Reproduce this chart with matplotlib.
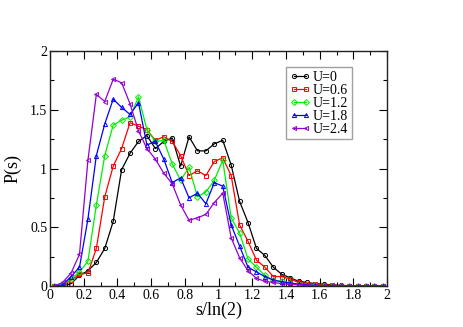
import numpy as np
import matplotlib
matplotlib.use('Agg')
import matplotlib.pyplot as plt
from matplotlib.ticker import MultipleLocator, FuncFormatter

plt.rcParams['font.family'] = ['Liberation Serif', 'DejaVu Serif']

# bin centres s/ln(2)
s = [0.025, 0.075, 0.125, 0.175, 0.225, 0.275, 0.325, 0.375, 0.425, 0.475,
     0.525, 0.575, 0.625, 0.675, 0.725, 0.775, 0.825, 0.875, 0.925, 0.975,
     1.025, 1.075, 1.125, 1.175, 1.225, 1.275, 1.325, 1.375, 1.425, 1.475,
     1.525, 1.575, 1.625, 1.675, 1.725, 1.775, 1.825, 1.875, 1.925, 1.975]

p_u00 = [0, 0, 0.02, 0.09, 0.13, 0.2, 0.32, 0.55, 0.99, 1.13,
         1.23, 1.28, 1.17, 1.23, 1.26, 1.02, 1.27, 1.15, 1.15, 1.21,
         1.24, 1.03, 0.72, 0.54, 0.32, 0.26, 0.16, 0.1, 0.07, 0.04,
         0.03, 0.02, 0.015, 0.01, 0.005, 0.003, 0.002, 0.001, 0, 0]
p_u06 = [0, 0.005, 0.05, 0.1, 0.11, 0.32, 0.76, 1.02, 1.17, 1.39,
         1.36, 1.33, 1.24, 1.27, 1.23, 1.11, 0.94, 0.98, 0.94, 1.06,
         1.09, 0.94, 0.52, 0.38, 0.22, 0.16, 0.08, 0.08, 0.06, 0.03,
         0.02, 0.015, 0.01, 0.005, 0.003, 0.002, 0.001, 0, 0, 0]
p_u12 = [0, 0.01, 0.06, 0.12, 0.21, 0.69, 1.11, 1.37, 1.41, 1.44,
         1.61, 1.33, 1.23, 1.24, 1.04, 0.9, 1.01, 0.76, 0.8, 0.9,
         1.07, 0.58, 0.45, 0.23, 0.16, 0.09, 0.05, 0.04, 0.025, 0.015,
         0.01, 0.005, 0.003, 0.002, 0.001, 0, 0, 0, 0, 0]
p_u18 = [0, 0.01, 0.08, 0.16, 0.57, 1.11, 1.38, 1.59, 1.52, 1.46,
         1.56, 1.2, 1.23, 1.08, 0.88, 0.92, 0.75, 0.79, 0.7, 0.88,
         0.85, 0.52, 0.34, 0.16, 0.12, 0.08, 0.05, 0.035, 0.025, 0.015,
         0.01, 0.005, 0.003, 0.002, 0.001, 0, 0, 0, 0, 0]
p_u24 = [0, 0.03, 0.11, 0.27, 1.07, 1.63, 1.57, 1.76, 1.73, 1.55,
         1.32, 1.17, 1.08, 0.96, 0.87, 0.69, 0.56, 0.58, 0.61, 0.71,
         0.79, 0.41, 0.24, 0.13, 0.065, 0.04, 0.03, 0.02, 0.015, 0.01,
         0.005, 0.003, 0.002, 0.001, 0, 0, 0, 0, 0, 0]

labels = ['U=0', 'U=0.6', 'U=1.2', 'U=1.8', 'U=2.4']
series = [p_u00, p_u06, p_u12, p_u18, p_u24]
colors = ['black', '#ff0000', '#00ee00', '#0000ff', '#9400d3']
markers = ['o', 's', 'D', '^', '<']

fig = plt.figure(figsize=(4.63, 3.27), dpi=100)
ax = fig.add_axes([0.108, 0.1254, 0.728, 0.7186])

for y, lab, c, m in zip(series, labels, colors, markers):
    ax.plot(s, y, color=c, lw=0.9, marker=m, ms=3.0, mfc='none',
            mec=c, mew=0.7, label=lab)

ax.set_xlim(0, 2)
ax.set_ylim(0, 2)
ax.xaxis.set_major_locator(MultipleLocator(0.2))
ax.xaxis.set_minor_locator(MultipleLocator(0.1))
ax.yaxis.set_major_locator(MultipleLocator(0.5))
ax.yaxis.set_minor_locator(MultipleLocator(0.25))
fmt = FuncFormatter(lambda v, pos: f'{round(v, 2):g}')
ax.xaxis.set_major_formatter(fmt)
ax.yaxis.set_major_formatter(fmt)
ax.tick_params(which='both', direction='in', top=True, right=True,
               labelsize=10, pad=2, width=0.8)
ax.tick_params(which='major', length=6)
ax.tick_params(which='minor', length=3)
for sp in ax.spines.values():
    sp.set_linewidth(1.0)
    sp.set_color('#222222')

ax.set_xlabel('s/ln(2)', fontsize=13, labelpad=0)
ax.set_ylabel('P(s)', fontsize=13, labelpad=6)

leg = ax.legend(loc='upper left', bbox_to_anchor=(0.70, 0.93), numpoints=2,
                fontsize=10, frameon=True, fancybox=False, handlelength=1.5,
                handletextpad=0.2, labelspacing=0.0, borderpad=0.25,
                borderaxespad=0)
leg.get_frame().set_edgecolor('#888888')
leg.get_frame().set_linewidth(1.0)

fig.savefig('out.png', dpi=100)
